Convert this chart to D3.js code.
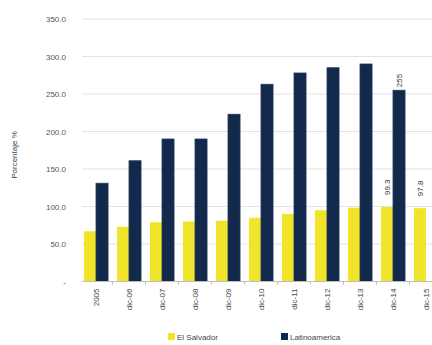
<!DOCTYPE html>
<html>
<head>
<meta charset="utf-8">
<script src="https://cdn.jsdelivr.net/npm/d3@7/dist/d3.min.js"></script>
<style>
  html, body { margin: 0; padding: 0; background: #fff; }
  svg { display: block; font-family: "Liberation Sans", Arial, sans-serif; }
</style>
</head>
<body>
<svg id="chart" width="432" height="345"></svg>
<script>
// Categories and series
const categories = ["2005", "dic-06", "dic-07", "dic-08", "dic-09", "dic-10", "dic-11", "dic-12", "dic-13", "dic-14", "dic-15"];
const elSalvador = [67, 73, 79, 80, 81, 85, 90, 95, 98.5, 99.3, 97.8];
const latinoamerica = [131, 161, 190, 190, 223, 263, 278, 285, 290, 255, null];
const yTicks = [0, 50, 100, 150, 200, 250, 300, 350];
// Bars carrying a printed value: [series index, category index]
const labelled = [[1, 9], [0, 9], [0, 10]];

const seriesNames = ["El Salvador", "Latinoamerica"];
const colors = ["#f1e52c", "#13294b"];
const series = [elSalvador, latinoamerica];

const svg = d3.select("#chart");
const plotLeft = 79.5, plotTop = 19, plotBottom = 281.5;

const x = d3.scaleBand()
  .domain(categories)
  .range([plotLeft, plotLeft + 33 * categories.length])
  .paddingInner(0.27)
  .paddingOuter(0.135);

const xs = d3.scaleBand()
  .domain(d3.range(series.length))
  .range([0, x.bandwidth()]);

const y = d3.scaleLinear().domain([0, 350]).range([plotBottom, plotTop]);

// Gridlines
svg.append("g")
  .selectAll("line")
  .data(yTicks.filter(d => d > 0))
  .join("line")
  .attr("x1", 82).attr("x2", 432)
  .attr("y1", d => y(d)).attr("y2", d => y(d))
  .attr("stroke", "#e3e3e3").attr("stroke-width", 1);

// Y axis labels
const yAxis = d3.axisLeft(y)
  .tickValues(yTicks)
  .tickSize(0)
  .tickPadding(0)
  .tickFormat(d => d === 0 ? "-" : d3.format(".1f")(d));
const yg = svg.append("g").attr("transform", "translate(66,0)").call(yAxis);
yg.select(".domain").remove();
yg.selectAll("text").attr("fill", "#555").style("font-size", "8px");

// Y axis title
svg.append("text")
  .attr("transform", "translate(17,155) rotate(-90)")
  .attr("text-anchor", "middle")
  .attr("fill", "#444")
  .style("font-size", "8px")
  .text("Porcentaje %");

// Bars
series.forEach((vals, si) => {
  svg.append("g")
    .selectAll("rect")
    .data(categories.map((c, i) => ({ c, v: vals[i] })).filter(d => d.v != null))
    .join("rect")
    .attr("x", d => x(d.c) + xs(si))
    .attr("width", xs.bandwidth())
    .attr("y", d => y(d.v))
    .attr("height", d => y(0) - y(d.v))
    .attr("fill", colors[si])
    .attr("stroke", si === 1 ? "#21395d" : "none")
    .attr("stroke-width", 0.8);
});

// X axis
const xAxis = d3.axisBottom(x).tickSize(0).tickPadding(0).tickFormat(() => "");
const xg = svg.append("g").attr("transform", `translate(0,${plotBottom})`).call(xAxis);
xg.select(".domain").attr("stroke", "#bdbdbd").attr("d", `M82,0H432`);
// small separators between categories
svg.append("g")
  .selectAll("line")
  .data(categories.slice(1))
  .join("line")
  .attr("x1", d => x(d) - x.step() * x.paddingInner() / 2)
  .attr("x2", d => x(d) - x.step() * x.paddingInner() / 2)
  .attr("y1", plotBottom).attr("y2", plotBottom + 3)
  .attr("stroke", "#bdbdbd");

// Category labels, rotated
svg.append("g")
  .selectAll("text")
  .data(categories)
  .join("text")
  .attr("transform", d => `translate(${x(d) + x.bandwidth() / 2 + 3},${plotBottom + 7}) rotate(-90)`)
  .attr("text-anchor", "end")
  .attr("fill", "#444")
  .style("font-size", "8px")
  .text(d => d);

// Value labels
svg.append("g")
  .selectAll("text")
  .data(labelled)
  .join("text")
  .attr("transform", ([si, ci]) => `translate(${x(categories[ci]) + xs(si) + xs.bandwidth() / 2 + 3},${y(series[si][ci]) - (si === 0 ? 12 : 3)}) rotate(-90)`)
  .attr("text-anchor", "start")
  .attr("fill", "#333")
  .style("font-size", "8px")
  .text(([si, ci]) => d3.format(si === 1 ? ".0f" : ".1f")(series[si][ci]));

// Legend
const legend = svg.append("g");
const legendX = [168, 281];
seriesNames.forEach((name, i) => {
  const g = legend.append("g").attr("transform", `translate(${legendX[i]},333)`);
  g.append("rect").attr("width", 7).attr("height", 7).attr("fill", colors[i]);
  g.append("text").attr("x", 9).attr("y", 7)
    .attr("fill", "#444").style("font-size", "8px").text(name);
});
</script>
</body>
</html>
